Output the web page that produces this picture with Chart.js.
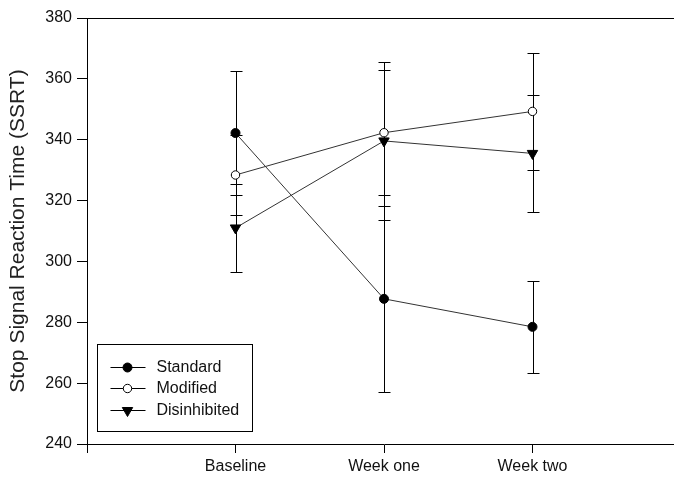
<!DOCTYPE html>
<html>
<head>
<meta charset="utf-8">
<script src="https://cdn.jsdelivr.net/npm/chart.js@4/dist/chart.umd.min.js"></script>
<style>
html,body{margin:0;padding:0;overflow:hidden;background:#fff;width:674px;height:479px;}
canvas{display:block;}
</style>
</head>
<body>
<canvas id="c" width="690" height="479"></canvas>
<script>
const categories = ['Baseline', 'Week one', 'Week two'];
const standardMean = [342.2, 287.7, 278.5];
const standardSE = [20.3, 30.5, 15.1];
const modifiedMean = [328.4, 342.3, 349.3];
const modifiedSE = [13.0, 20.5, 19.2];
const disinhibitedMean = [311.0, 339.6, 335.5];
const disinhibitedSE = [14.4, 26.0, 19.3];
const yTickValues = [240, 260, 280, 300, 320, 340, 360, 380];
const yTitle = 'Stop Signal Reaction Time (SSRT)';

const FONT = '"Liberation Sans", Arial, sans-serif';

function pts(arr) { return arr.map((v, i) => ({ x: i + 1, y: v })); }

const errorBars = {
  id: 'errorBars',
  beforeDatasetsDraw(chart) {
    const ctx = chart.ctx, ys = chart.scales.y;
    ctx.save();
    ctx.strokeStyle = '#000';
    ctx.lineWidth = 1;
    chart.data.datasets.forEach((ds, di) => {
      const meta = chart.getDatasetMeta(di);
      meta.data.forEach((el, i) => {
        const v = ds.data[i].y, e = ds.errors[i];
        const x = Math.round(el.x) + 0.5;
        const yt = Math.round(ys.getPixelForValue(v + e)) + 0.5;
        const yb = Math.round(ys.getPixelForValue(v - e)) + 0.5;
        ctx.beginPath();
        ctx.moveTo(x, yt); ctx.lineTo(x, yb);
        ctx.moveTo(x - 6, yt); ctx.lineTo(x + 6, yt);
        ctx.moveTo(x - 6, yb); ctx.lineTo(x + 6, yb);
        ctx.stroke();
      });
    });
    ctx.restore();
  }
};

const frame = {
  id: 'frame',
  afterDraw(chart) {
    const ctx = chart.ctx, a = chart.chartArea;
    ctx.save();
    ctx.strokeStyle = '#000';
    ctx.lineWidth = 1;
    ctx.beginPath();
    ctx.moveTo(a.left, Math.round(a.top) + 0.5);
    ctx.lineTo(a.right, Math.round(a.top) + 0.5);
    ctx.lineTo(a.right, a.bottom);
    ctx.stroke();
    ctx.restore();
  }
};

const boxLegend = {
  id: 'boxLegend',
  afterDraw(chart) {
    const ctx = chart.ctx, a = chart.chartArea;
    const left = Math.round(a.left) + 10.5, bottom = Math.round(a.bottom) - 12.5;
    const w = 155, h = 87;
    const top = bottom - h;
    ctx.save();
    ctx.strokeStyle = '#000';
    ctx.lineWidth = 1;
    ctx.strokeRect(left, top, w, h);
    chart.data.datasets.forEach((ds, i) => {
      const y = top + 22 + i * 21.5;
      const yy = Math.round(y) + 0.5;
      ctx.strokeStyle = '#000';
      ctx.lineWidth = 1;
      ctx.beginPath();
      ctx.moveTo(left + 13, yy);
      ctx.lineTo(left + 48, yy);
      ctx.stroke();
      ctx.fillStyle = ds.pointBackgroundColor;
      ctx.strokeStyle = ds.pointBorderColor;
      ctx.lineWidth = ds.pointBorderWidth;
      Chart.helpers.drawPoint(ctx, {
        pointStyle: ds.pointStyle,
        radius: ds.pointRadius,
        rotation: ds.pointRotation || 0,
        borderWidth: ds.pointBorderWidth
      }, left + 30, yy);
      ctx.fillStyle = '#111';
      ctx.font = '16px ' + FONT;
      ctx.textBaseline = 'middle';
      ctx.textAlign = 'left';
      ctx.fillText(ds.label, left + 59, y + 1);
    });
    ctx.restore();
  }
};

new Chart(document.getElementById('c'), {
  type: 'line',
  data: {
    datasets: [
      {
        label: 'Standard', data: pts(standardMean), errors: standardSE,
        borderColor: '#333', borderWidth: 1,
        pointStyle: 'circle', pointRadius: 4.5, pointBorderWidth: 1,
        pointBackgroundColor: '#000', pointBorderColor: '#000'
      },
      {
        label: 'Modified', data: pts(modifiedMean), errors: modifiedSE,
        borderColor: '#333', borderWidth: 1,
        pointStyle: 'circle', pointRadius: 4.2, pointBorderWidth: 1,
        pointBackgroundColor: '#fff', pointBorderColor: '#000'
      },
      {
        label: 'Disinhibited', data: pts(disinhibitedMean), errors: disinhibitedSE,
        borderColor: '#333', borderWidth: 1,
        pointStyle: 'triangle', pointRotation: 180, pointRadius: 6, pointBorderWidth: 1,
        pointBackgroundColor: '#000', pointBorderColor: '#000'
      }
    ]
  },
  options: {
    responsive: false,
    animation: false,
    events: [],
    layout: { padding: { top: 18, right: 9, bottom: 0, left: 0 } },
    plugins: { legend: { display: false }, tooltip: { enabled: false } },
    elements: { line: { tension: 0 } },
    scales: {
      x: {
        type: 'linear', min: 0, max: 4,
        afterFit(s) { s.height = 35; },
        afterBuildTicks(s) { s.ticks = [0, 1, 2, 3, 4].map(v => ({ value: v })); },
        grid: { display: true, drawOnChartArea: false, drawTicks: true, tickLength: 9, color: '#000' },
        border: { display: true, color: '#000', width: 1 },
        ticks: {
          autoSkip: false, maxRotation: 0, padding: 4, color: '#111',
          font: { family: FONT, size: 16 },
          callback: (v) => categories[v - 1] || ''
        }
      },
      y: {
        min: 240, max: 380,
        afterFit(s) { s.width = 87; },
        afterBuildTicks(s) { s.ticks = yTickValues.map(v => ({ value: v })); },
        grid: { display: true, drawOnChartArea: false, drawTicks: true, tickLength: 10, color: '#000' },
        border: { display: true, color: '#000', width: 1 },
        ticks: { padding: 5, color: '#111', font: { family: FONT, size: 16 } },
        title: {
          display: true, text: yTitle, color: '#222',
          font: { family: FONT, size: 21 }, padding: { top: 6, bottom: 0 }
        }
      }
    }
  },
  plugins: [errorBars, frame, boxLegend]
});
</script>
</body>
</html>
